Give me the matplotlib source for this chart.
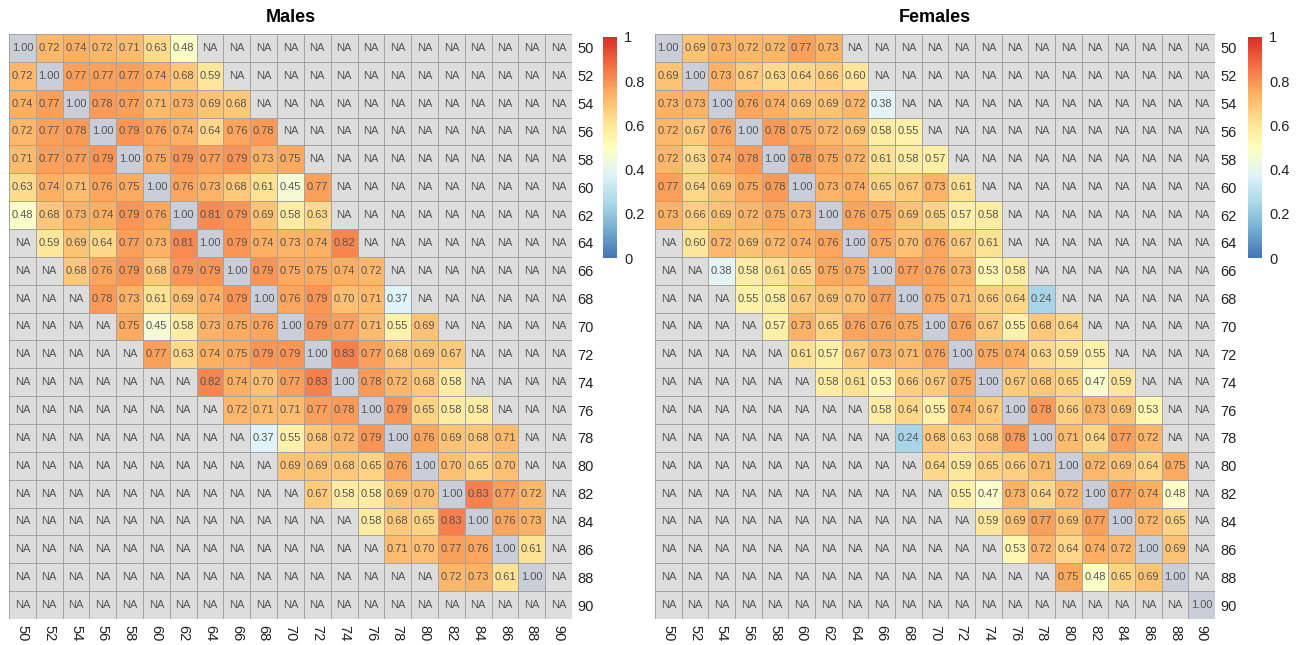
import numpy as np
import matplotlib
matplotlib.use("Agg")
import matplotlib.pyplot as plt
from matplotlib.colors import LinearSegmentedColormap, Normalize, ListedColormap
import matplotlib.colorbar as mcolorbar

plt.rcParams["font.family"] = ["Liberation Sans", "DejaVu Sans"]

# Age groups (rows top-to-bottom, columns left-to-right)
ages = [50, 52, 54, 56, 58, 60, 62, 64, 66, 68, 70, 72, 74, 76, 78, 80, 82, 84, 86, 88, 90]

# Correlations to the right of the diagonal, one list per age row
males_upper = [
    [0.72, 0.74, 0.72, 0.71, 0.63, 0.48],
    [0.77, 0.77, 0.77, 0.74, 0.68, 0.59],
    [0.78, 0.77, 0.71, 0.73, 0.69, 0.68],
    [0.79, 0.76, 0.74, 0.64, 0.76, 0.78],
    [0.75, 0.79, 0.77, 0.79, 0.73, 0.75],
    [0.76, 0.73, 0.68, 0.61, 0.45, 0.77],
    [0.81, 0.79, 0.69, 0.58, 0.63],
    [0.79, 0.74, 0.73, 0.74, 0.82],
    [0.79, 0.75, 0.75, 0.74, 0.72],
    [0.76, 0.79, 0.70, 0.71, 0.37],
    [0.79, 0.77, 0.71, 0.55, 0.69],
    [0.83, 0.77, 0.68, 0.69, 0.67],
    [0.78, 0.72, 0.68, 0.58],
    [0.79, 0.65, 0.58, 0.58],
    [0.76, 0.69, 0.68, 0.71],
    [0.70, 0.65, 0.70],
    [0.83, 0.77, 0.72],
    [0.76, 0.73],
    [0.61],
    [],
    [],
]
males_diag = [1.00, 1.00, 1.00, 1.00, 1.00, 1.00, 1.00, 1.00, 1.00, 1.00, 1.00,
              1.00, 1.00, 1.00, 1.00, 1.00, 1.00, 1.00, 1.00, 1.00, None]

females_upper = [
    [0.69, 0.73, 0.72, 0.72, 0.77, 0.73],
    [0.73, 0.67, 0.63, 0.64, 0.66, 0.60],
    [0.76, 0.74, 0.69, 0.69, 0.72, 0.38],
    [0.78, 0.75, 0.72, 0.69, 0.58, 0.55],
    [0.78, 0.75, 0.72, 0.61, 0.58, 0.57],
    [0.73, 0.74, 0.65, 0.67, 0.73, 0.61],
    [0.76, 0.75, 0.69, 0.65, 0.57, 0.58],
    [0.75, 0.70, 0.76, 0.67, 0.61],
    [0.77, 0.76, 0.73, 0.53, 0.58],
    [0.75, 0.71, 0.66, 0.64, 0.24],
    [0.76, 0.67, 0.55, 0.68, 0.64],
    [0.75, 0.74, 0.63, 0.59, 0.55],
    [0.67, 0.68, 0.65, 0.47, 0.59],
    [0.78, 0.66, 0.73, 0.69, 0.53],
    [0.71, 0.64, 0.77, 0.72],
    [0.72, 0.69, 0.64, 0.75],
    [0.77, 0.74, 0.48],
    [0.72, 0.65],
    [0.69],
    [],
    [],
]
females_diag = [1.00, 1.00, 1.00, 1.00, 1.00, 1.00, 1.00, 1.00, 1.00, 1.00, 1.00,
                1.00, 1.00, 1.00, 1.00, 1.00, 1.00, 1.00, 1.00, 1.00, 1.00]

colorbar_ticks = [0, 0.2, 0.4, 0.6, 0.8, 1]
colorbar_labels = ["0", "0.2", "0.4", "0.6", "0.8", "1"]

# Reversed 9-class RdYlBu ramp
cmap = LinearSegmentedColormap.from_list(
    "rdylbu9",
    ["#4575b4", "#74add1", "#abd9e9", "#e0f3f8", "#ffffbf",
     "#fee090", "#fdae61", "#f46d43", "#d73027"], N=100)
cmap.set_bad("#dddddd")
norm = Normalize(0, 1)
diag_cmap = ListedColormap(["#c9ced8"])
diag_cmap.set_bad((0, 0, 0, 0))

GRID = "#a3a3a3"
LW = 0.55

W, H = 1303, 645
fig = plt.figure(figsize=(W / 100, H / 100), dpi=100)


def build(upper):
    n = len(ages)
    m = np.full((n, n), np.nan)
    for i, row in enumerate(upper):
        for k, v in enumerate(row):
            j = i + 1 + k
            m[i, j] = v
            m[j, i] = v
    return m


def panel(x0, x1, title, upper, diag, cb_x):
    y0, y1 = 34, 619
    ax = fig.add_axes([x0 / W, 1 - y1 / H, (x1 - x0) / W, (y1 - y0) / H])
    n = len(ages)
    m = build(upper)
    ax.pcolormesh(np.ma.masked_invalid(m), cmap=cmap, norm=norm,
                  edgecolors=GRID, linewidth=LW)
    d = np.full((n, n), np.nan)
    for i, v in enumerate(diag):
        if v is not None:
            d[i, i] = 0.0
    ax.pcolormesh(np.ma.masked_invalid(d), cmap=diag_cmap,
                  edgecolors=GRID, linewidth=LW)
    for i in range(n):
        for j in range(n):
            if i == j:
                v = diag[i]
            else:
                v = m[i, j]
            txt = "NA" if (v is None or np.isnan(v)) else f"{v:.2f}"
            ax.text(j + 0.5, i + 0.5, txt, ha="center", va="center",
                    fontsize=8, color="#555555")
    ax.set_xlim(0, n)
    ax.set_ylim(n, 0)
    ax.set_xticks(np.arange(n) + 0.5)
    ax.set_xticklabels([str(a) for a in ages], rotation=270, fontsize=10.5, color="#222222")
    ax.set_yticks(np.arange(n) + 0.5)
    ax.set_yticklabels([str(a) for a in ages], fontsize=10.5, color="#222222")
    ax.yaxis.tick_right()
    ax.tick_params(length=0, pad=4)
    for s in ax.spines.values():
        s.set_visible(False)
    ax.set_title(title, fontsize=13, fontweight="bold", pad=9)

    cax = fig.add_axes([cb_x / W, 1 - 258 / H, 14 / W, (258 - 37) / H])
    cb = mcolorbar.ColorbarBase(cax, cmap=cmap, norm=norm, ticks=colorbar_ticks)
    cb.set_ticklabels(colorbar_labels)
    cb.outline.set_visible(False)
    cax.tick_params(length=0, pad=5, labelsize=10.5, labelcolor="#222222")


panel(9, 572, "Males", males_upper, males_diag, 603)
panel(655, 1215, "Females", females_upper, females_diag, 1248)

fig.savefig("out.png", dpi=100, facecolor="white")
